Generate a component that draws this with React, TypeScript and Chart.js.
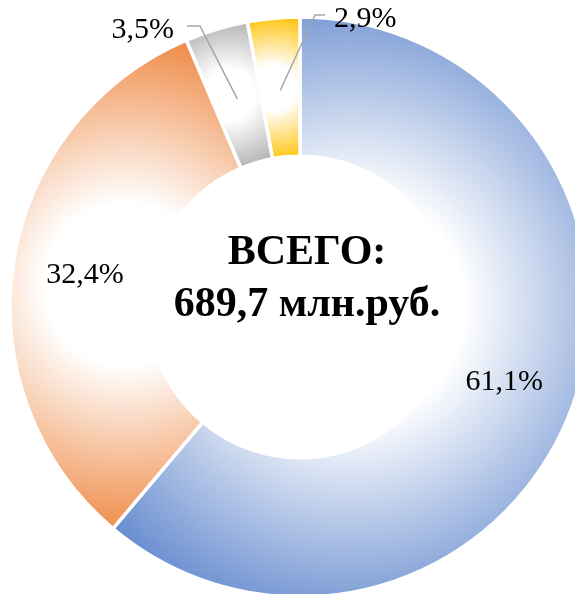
import { useEffect, useRef } from 'react';
import { Chart, registerables } from 'chart.js';

Chart.register(...registerables);

const categories = ['Доля 1', 'Доля 2', 'Доля 3', 'Доля 4'];
const shares = [61.1, 32.4, 3.5, 2.9];
const sliceColors = ['#4472C4', '#ED7D31', '#A5A5A5', '#FFC000'];
const centerLines = ['ВСЕГО:', '689,7 млн.руб.'];

const fmt = (v: number) => v.toFixed(1).replace('.', ',') + '%';

const gradientPlugin = {
  id: 'sliceGradient',
  beforeDatasetsDraw(chart: any) {
    const meta = chart.getDatasetMeta(0);
    const ctx = chart.ctx as CanvasRenderingContext2D;
    meta.data.forEach((arc: any, i: number) => {
      const { x, y, startAngle, endAngle, innerRadius, outerRadius } = arc.getProps(
        ['x', 'y', 'startAngle', 'endAngle', 'innerRadius', 'outerRadius'],
        true
      );
      const pts: number[][] = [];
      const add = (a: number, r: number) => pts.push([x + Math.cos(a) * r, y + Math.sin(a) * r]);
      add(startAngle, innerRadius);
      add(startAngle, outerRadius);
      add(endAngle, innerRadius);
      add(endAngle, outerRadius);
      const q = Math.PI / 2;
      for (let k = Math.ceil(startAngle / q); k * q <= endAngle; k++) add(k * q, outerRadius);
      const xs = pts.map((p) => p[0]);
      const ys = pts.map((p) => p[1]);
      const x0 = Math.min(...xs), x1 = Math.max(...xs);
      const y0 = Math.min(...ys), y1 = Math.max(...ys);
      const cx = (x0 + x1) / 2, cy = (y0 + y1) / 2;
      const hd = Math.hypot((x1 - x0) / 2, (y1 - y0) / 2);
      const g = ctx.createRadialGradient(cx, cy, 0, cx, cy, hd);
      g.addColorStop(0, '#ffffff');
      g.addColorStop(0.3, '#ffffff');
      g.addColorStop(1, sliceColors[i]);
      arc.options = { ...arc.options, backgroundColor: g };
    });
  },
};

const labelPlugin = {
  id: 'sliceLabels',
  afterDatasetsDraw(chart: any) {
    const meta = chart.getDatasetMeta(0);
    const ctx = chart.ctx as CanvasRenderingContext2D;
    const first = meta.data[0];
    const ccx = first.x, ccy = first.y;
    ctx.save();
    ctx.fillStyle = '#000000';
    ctx.font = '30px "Liberation Serif", "Times New Roman", serif';
    meta.data.forEach((arc: any, i: number) => {
      const { startAngle, endAngle, innerRadius, outerRadius } = arc.getProps(
        ['startAngle', 'endAngle', 'innerRadius', 'outerRadius'],
        true
      );
      const mid = (startAngle + endAngle) / 2;
      const r = (innerRadius + outerRadius) / 2 - 3;
      const px = ccx + Math.cos(mid) * r;
      const py = ccy + Math.sin(mid) * r;
      const text = fmt(shares[i]);
      if (i < 2) {
        ctx.textAlign = 'center';
        ctx.textBaseline = 'middle';
        ctx.fillText(text, px, py);
      } else {
        const left = i === 2;
        const ex = left ? ccx - 100 : ccx + 15;
        const ey = left ? ccy - 281 : ccy - 292;
        const hx = left ? ccx - 113 : ccx + 25;
        ctx.save();
        ctx.strokeStyle = '#A6A6A6';
        ctx.lineWidth = 1.5;
        ctx.beginPath();
        ctx.moveTo(px, py);
        ctx.lineTo(ex, ey);
        ctx.lineTo(hx, ey);
        ctx.stroke();
        ctx.restore();
        ctx.textBaseline = 'alphabetic';
        if (left) {
          ctx.textAlign = 'right';
          ctx.fillText(text, ccx - 126, ccy - 269);
        } else {
          ctx.textAlign = 'left';
          ctx.fillText(text, ccx + 34, ccy - 280);
        }
      }
    });
    ctx.font = 'bold 42px "Liberation Serif", "Times New Roman", serif';
    ctx.textAlign = 'center';
    ctx.textBaseline = 'alphabetic';
    ctx.fillText(centerLines[0], ccx + 7, ccy - 43);
    ctx.fillText(centerLines[1], ccx + 7, ccy + 9);
    ctx.restore();
  },
};

export default function App() {
  const ref = useRef<HTMLCanvasElement>(null);
  useEffect(() => {
    document.body.style.margin = '0';
    const chart = new Chart(ref.current!, {
      type: 'doughnut',
      data: {
        labels: categories,
        datasets: [
          {
            data: shares,
            backgroundColor: sliceColors,
            borderColor: '#ffffff',
            borderWidth: 3.5,
          },
        ],
      },
      options: {
        responsive: false,
        animation: false,
        events: [],
        radius: 290,
        cutout: '52%',
        layout: { padding: 0 },
        plugins: { legend: { display: false }, tooltip: { enabled: false } },
      },
      plugins: [gradientPlugin, labelPlugin],
    });
    return () => chart.destroy();
  }, []);
  return (
    <div style={{ position: 'fixed', left: 0, top: 0, width: 575, height: 594, overflow: 'hidden', background: '#fff' }}>
      <canvas ref={ref} width={600} height={614} style={{ display: 'block' }} />
    </div>
  );
}
